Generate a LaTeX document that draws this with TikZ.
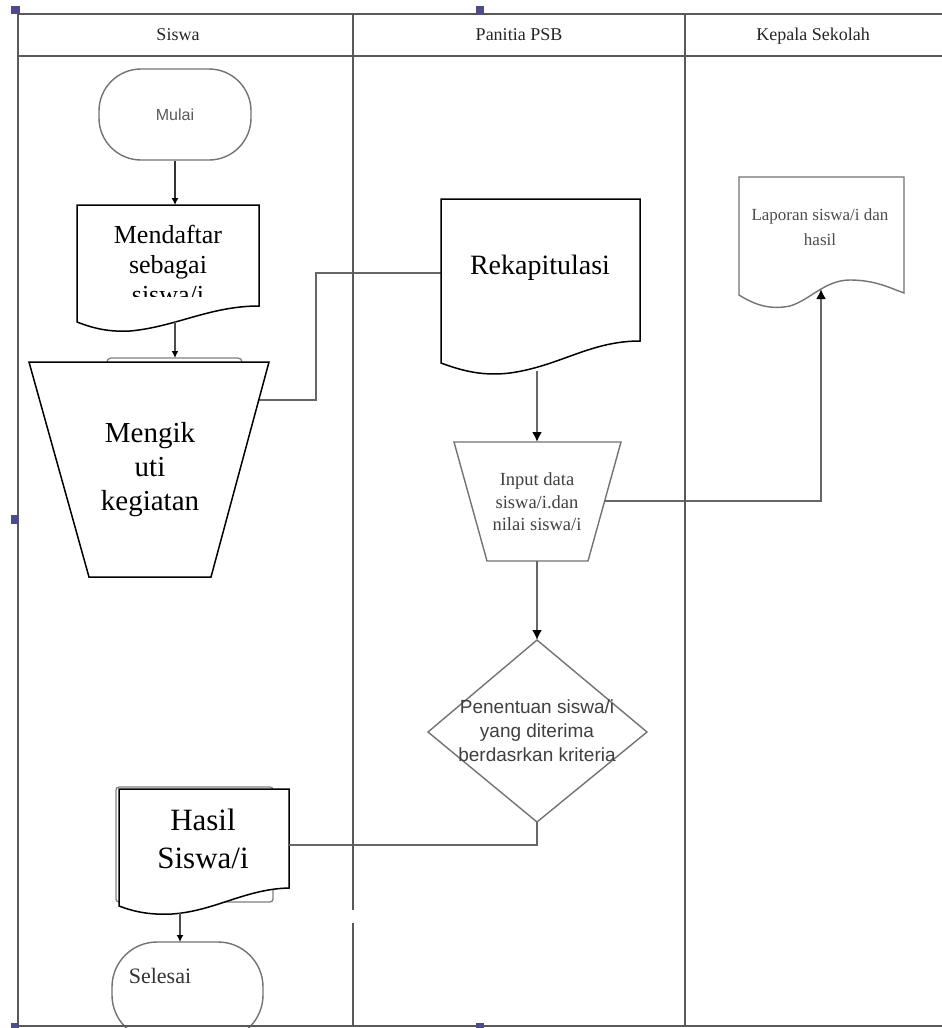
\documentclass[tikz,border=0pt]{standalone}
\usepackage{fontspec}
\setmainfont{Liberation Serif}
\newfontfamily\arialf{Liberation Sans}
\usetikzlibrary{arrows.meta}
\begin{document}
\begin{tikzpicture}[x=1pt,y=-1pt,
  frame/.style={draw=black!65, line width=2.4pt},
  shp/.style={draw=black, line width=1.5pt, fill=white},
  gshp/.style={draw=black!55, line width=1.4pt, fill=white},
  hidden/.style={draw=black!50, line width=1.3pt},
  conn/.style={draw=black!60, line width=2.2pt},
  tipbig/.style={-{Latex[length=10pt,width=10pt,color=black]}},
  tipsmall/.style={-{Latex[length=7pt,width=7pt,color=black]}},
  lbl/.style={inner sep=0pt, align=center},
  hdr/.style={inner sep=0pt, anchor=base, text=black!85, font=\fontsize{18}{20}\selectfont},
  handle/.style={fill=blue!35!black!70},
]
\clip (0,0) rectangle (942,1028);
\fill[white] (0,0) rectangle (942,1028);

% header labels
\node[hdr] (hsiswa) at (178,40) {Siswa};
\node[hdr] (hpanitia) at (519,40) {Panitia PSB};
\node[hdr] (hkepala) at (813,40) {Kepala Sekolah};

% ---- Siswa lane ----
\node[gshp, rounded corners=42pt, minimum width=152pt, minimum height=91pt, inner sep=0pt,
      font=\arialf\fontsize{16}{18}\selectfont, text=black!65] (mulai) at (175,114.5) {Mulai};

\draw[shp] (77,205) -- (259,205) -- (259,306) .. controls (210,306) and (175,327) .. (130,331)
  .. controls (110,332) and (95,329) .. (77,322) -- cycle;
\coordinate (daftarT) at (175,205);
\coordinate (daftarB) at (175,321);
\begin{scope}
  \clip (77,205) rectangle (259,296);
  \node[lbl, font=\fontsize{26}{30}\selectfont] (daftar) at (168,264) {Mendaftar\\sebagai\\siswa/i};
\end{scope}

\draw[hidden, rounded corners=4pt] (107,358) rectangle (242,440);
\coordinate (ikutT) at (175,358);
\coordinate (ikutR) at (242,400);
\coordinate (jog) at (316,400);
\coordinate (rekapL) at (441,273);
\draw[conn] (ikutR) -- (jog) |- (rekapL);

\draw[shp] (29,362) -- (269,362) -- (211,577) -- (89,577) -- cycle;
\node[lbl, font=\fontsize{29}{34}\selectfont] (ikut) at (150,470) {Mengik\\uti\\kegiatan};

\draw[black!80, line width=1.3pt, tipsmall] (mulai.south) -- (daftarT);
\draw[black!70, line width=1.6pt, tipsmall] (daftarB) -- (ikutT);

% ---- Panitia lane ----
\draw[shp] (441,199) -- (640,199) -- (640,341) .. controls (590,341) and (560,366) .. (510,373)
  .. controls (485,376) and (465,372) .. (441,363) -- cycle;
\coordinate (rekapB) at (537,371);
\node[lbl, font=\fontsize{28}{32}\selectfont] (rekap) at (540,268) {Rekapitulasi};

\draw[gshp] (454,442) -- (621,442) -- (588,561) -- (487,561) -- cycle;
\coordinate (inputT) at (537,442);
\coordinate (inputB) at (537,561);
\coordinate (inputR) at (605,501);
\node[lbl, text=black!75, font=\fontsize{18.5}{22.5}\selectfont] (input) at (537,502) {Input data\\siswa/i.dan\\nilai siswa/i};

\draw[conn, tipbig] (rekapB) -- (inputT);

\draw[gshp] (537,640) -- (647,732) -- (537,822) -- (428,732) -- cycle;
\coordinate (dT) at (537,640);
\coordinate (dB) at (537,822);
\node[lbl, text=black!75, font=\arialf\fontsize{19}{24}\selectfont] (tentu) at (537,731) {Penentuan siswa/i\\yang diterima\\berdasrkan kriteria};

\draw[conn, tipbig] (inputB) -- (dT);

% ---- Kepala Sekolah lane ----
\draw[gshp] (739,177) -- (904,177) -- (904,293) .. controls (890,288) and (875,280) .. (850,280)
  .. controls (825,280) and (810,300) .. (790,306) .. controls (770,310) and (755,305) .. (739,295) -- cycle;
\coordinate (lapB) at (821,289);
\node[lbl, text=black!70, font=\fontsize{17}{25}\selectfont] (lapor) at (820,227) {Laporan siswa/i dan\\hasil};

\draw[conn, tipbig] (inputR) -| (lapB);

% ---- results back to Siswa ----
\draw[hidden, rounded corners=3pt] (116,787) rectangle (273,902);
\draw[shp] (119,789) -- (289,789) -- (289,888) .. controls (245,889) and (215,911) .. (172,914)
  .. controls (150,915) and (135,912) .. (119,906) -- cycle;
\coordinate (hasilR) at (289,845);
\coordinate (hasilB) at (180,913);
\node[lbl, font=\fontsize{31}{38}\selectfont] (hasil) at (203,839) {Hasil\\Siswa/i};

\draw[conn] (dB) |- (hasilR);

\draw[gshp, rounded corners=45pt] (112,942) rectangle (263,1040);
\coordinate (selT) at (180,942);
\node[inner sep=0pt, anchor=base, text=black!80, font=\fontsize{22}{24}\selectfont] (selesai) at (160,983) {Selesai};
\draw[black!70, line width=1.6pt, tipsmall] (hasilB) -- (selT);

% ---- frame ----
\draw[frame] (18,14) -- (942,14);
\draw[frame] (18,56) -- (942,56);
\draw[frame] (18,1026) -- (942,1026);
\draw[frame] (18,14) -- (18,1026);
\draw[frame] (353,14) -- (353,1026);
\draw[frame] (685,14) -- (685,1026);
\fill[white] (350,910) rectangle (356,923);

% selection handles
\fill[handle] (11,6) rectangle (20,14);
\fill[handle] (476,6) rectangle (484,14);
\fill[handle] (11,515) rectangle (19,524);
\fill[handle] (11,1023) rectangle (19,1028);
\fill[handle] (476,1023) rectangle (484,1028);
\end{tikzpicture}
\end{document}
